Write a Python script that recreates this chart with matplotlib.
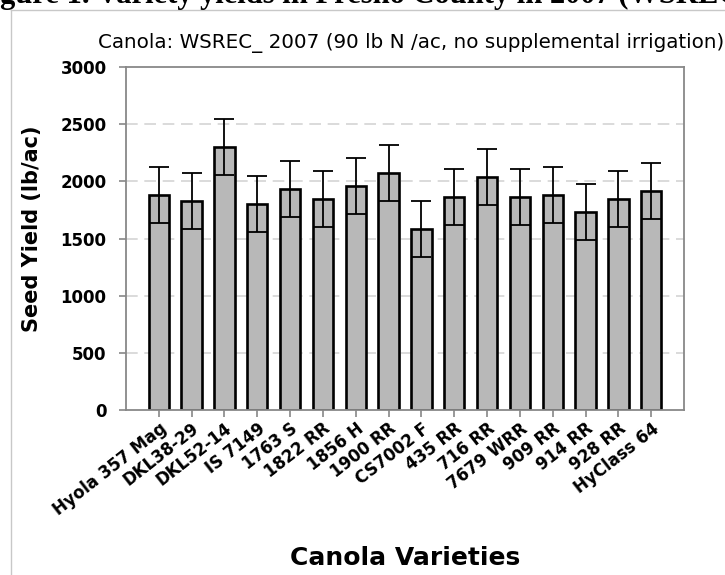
import numpy as np
import matplotlib
matplotlib.use('Agg')
import matplotlib.pyplot as plt
from matplotlib.lines import Line2D

varieties = ['Hyola 357 Mag', 'DKL38-29', 'DKL52-14', 'IS 7149', '1763 S', '1822 RR',
             '1856 H', '1900 RR', 'CS7002 F', '435 RR', '716 RR', '7679 WRR',
             '909 RR', '914 RR', '928 RR', 'HyClass 64']
yields = [1883, 1831, 2303, 1802, 1930, 1845, 1959, 2070,
          1580, 1866, 2041, 1860, 1883, 1732, 1845, 1918]
errors = [244, 244, 244, 244, 244, 244, 244, 244,
          244, 244, 244, 244, 244, 244, 244, 244]
yticks = [0, 500, 1000, 1500, 2000, 2500, 3000]

# the pasted chart is stretched sideways, DejaVu is a bit wider than Arial
plt.rcParams['font.family'] = ['DejaVu Sans']

W, H = 725, 575
fig = plt.figure(figsize=(W / 100, H / 100), dpi=100)
ax = fig.add_axes([126 / W, 1 - 410 / H, (684 - 126) / W, (410 - 67) / H])

x = np.arange(len(varieties))
ax.bar(x, yields, width=0.62, color='#b8b8b8', edgecolor='black', linewidth=1.9, zorder=2)
ax.errorbar(x, yields, yerr=errors, fmt='none', ecolor='black', elinewidth=1.3,
            capsize=7, capthick=1.3, zorder=3)

ax.set_xlim(-1, 16)
ax.set_ylim(0, 3000)
ax.set_yticks(yticks)
ax.set_yticklabels([str(t) for t in yticks], fontsize=12, fontweight='bold')
ax.set_xticks(x)
ax.set_xticklabels(varieties, rotation=38, ha='right', rotation_mode='anchor',
                   fontsize=12, fontweight='bold')

for v in yticks[1:-1]:
    ax.axhline(v, color='#d4d4d4', lw=1.2, ls=(0, (7, 4)), zorder=1)

for s in ax.spines.values():
    s.set_color('#888888')
    s.set_linewidth(1.3)
ax.tick_params(axis='both', color='#888888', length=5, width=1.2, direction='out')
ax.tick_params(axis='y', pad=9)
ax.tick_params(axis='x', pad=2)

fig.text(32 / W, 1 - 229 / H, 'Seed Yield (lb/ac)', fontsize=15, fontweight='bold',
         rotation=90, ha='center', va='center')
fig.text(405 / W, 1 - 558 / H, 'Canola Varieties', fontsize=18, fontweight='bold',
         ha='center', va='center')
fig.text(411 / W, 1 - 43 / H, 'Canola: WSREC_ 2007 (90 lb N /ac, no supplemental irrigation)',
         fontsize=14.3, ha='center', va='center')

# caption of the document page, cut off at the top
fig.text(-27 / W, 1 - 3 / H, 'Figure 1. Variety yields in Fresno County in 2007 (WSREC)',
         fontsize=22, fontweight='bold', family='Liberation Serif', va='baseline')

# frame of the pasted chart
fig.add_artist(Line2D([11 / W, 11 / W], [0, 1 - 10 / H], color='#c8c8c8', lw=1))
fig.add_artist(Line2D([11 / W, 1], [1 - 10 / H, 1 - 10 / H], color='#c8c8c8', lw=1))

fig.savefig('out.png', dpi=100)
